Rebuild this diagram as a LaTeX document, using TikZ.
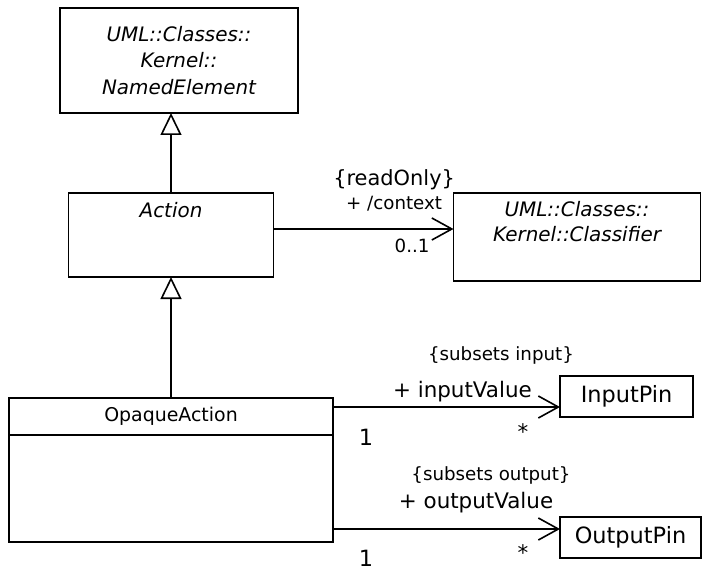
\documentclass[tikz,border=0pt]{standalone}
\usepackage{fontspec}
\setmainfont{DejaVu Sans}
\usepackage{tikz}
\usetikzlibrary{arrows.meta,positioning}
\definecolor{umlInk}{HTML}{000000}
\newcommand{\classfont}{\fontsize{19}{27}\selectfont}
\newcommand{\abstractfont}{\fontsize{20}{27}\selectfont\itshape}
\newcommand{\pinfont}{\fontsize{22.5}{26}\selectfont}
\newcommand{\rolefont}{\fontsize{21.5}{24}\selectfont}
\newcommand{\notefont}{\fontsize{18.3}{24}\selectfont}
\tikzset{
  umlclass/.style={
    rectangle,
    draw=umlInk,
    line width=1.6bp,
    inner sep=0pt,
    outer sep=0pt,
    align=center,
    font=\classfont
  },
  abstractclass/.style={
    umlclass,
    font=\abstractfont
  },
  pinclass/.style={
    umlclass,
    minimum height=41bp,
    font=\pinfont
  },
  generalize/.style={
    -{Triangle[open,length=22bp,width=21bp]},
    line width=1.6bp,
    draw=umlInk
  },
  assoc/.style={
    -{Straight Barb[length=20bp,width=22bp]},
    line width=1.6bp,
    draw=umlInk
  },
  rolelabel/.style={
    inner sep=0pt,
    align=center,
    font=\rolefont
  },
  notelabel/.style={
    rolelabel,
    font=\notefont
  },
  multlabel/.style={
    rolelabel,
    font=\pinfont
  }
}

\begin{document}
\begin{tikzpicture}[x=1bp,y=-1bp,node distance=80bp]
  \useasboundingbox (0,0) rectangle (705,571);
  \node[abstractclass,minimum width=238bp,minimum height=105bp] (named) at (179,60.5)
    {UML::Classes::\\Kernel::\\NamedElement};
  \node[umlclass,minimum width=205bp,minimum height=84bp,below=of named,xshift=-8bp,
    label={[anchor=north,yshift=-6bp,font=\abstractfont]north:Action}] (action) {};
  \node[umlclass,minimum width=247bp,minimum height=88bp,right=180bp of action.north east,anchor=north west,
    label={[anchor=north,yshift=-5bp,font=\abstractfont,align=center]north:UML::Classes::\\[-2bp]Kernel::Classifier}] (classifier) {};
  \node[umlclass,minimum width=324bp,minimum height=144bp,below=121bp of action,
    label={[anchor=north,yshift=-6bp,font=\classfont]north:OpaqueAction}] (opaque) {};
  \node[pinclass,minimum width=133bp,right=227bp of opaque.north east,anchor=north west,yshift=22bp] (inpin) {InputPin};
  \node[pinclass,minimum width=141bp,below=100bp of inpin.south west,anchor=north west] (outpin) {OutputPin};
  \coordinate (ctxstart) at ([yshift=-36bp]action.north east);
  \coordinate (inend) at ([yshift=-31bp]inpin.north west);
  \coordinate (outend) at ([yshift=-12bp]outpin.north west);
  \draw[umlInk,line width=1.6bp] ([yshift=-37bp]opaque.north west) -- ([yshift=-37bp]opaque.north east);
  \draw[generalize] (action.north) -- (action.north |- named.south);
  \draw[generalize] (opaque.north) -- (action.south);
  \draw[assoc] (ctxstart) -- (ctxstart -| classifier.west)
    node[notelabel,pos=.67,yshift=39bp] {{\fontsize{21}{24}\selectfont\{readOnly\}}\\+ /context}
    node[notelabel,pos=.77,yshift=-17bp] {0..1};
  \draw[assoc] (inend -| opaque.east) -- (inend)
    node[notelabel,pos=.74,yshift=52bp] {\{subsets input\}}
    node[rolelabel,pos=.57,yshift=15bp] {+ inputValue}
    node[multlabel,pos=.145,yshift=-30bp] {1}
    node[rolelabel,pos=.837,yshift=-25bp] {*};
  \draw[assoc] (outend -| opaque.east) -- (outend)
    node[notelabel,pos=.696,yshift=54bp] {\{subsets output\}}
    node[rolelabel,pos=.63,yshift=26bp] {+ outputValue}
    node[multlabel,pos=.145,yshift=-29bp] {1}
    node[rolelabel,pos=.837,yshift=-24bp] {*};
\end{tikzpicture}
\end{document}
